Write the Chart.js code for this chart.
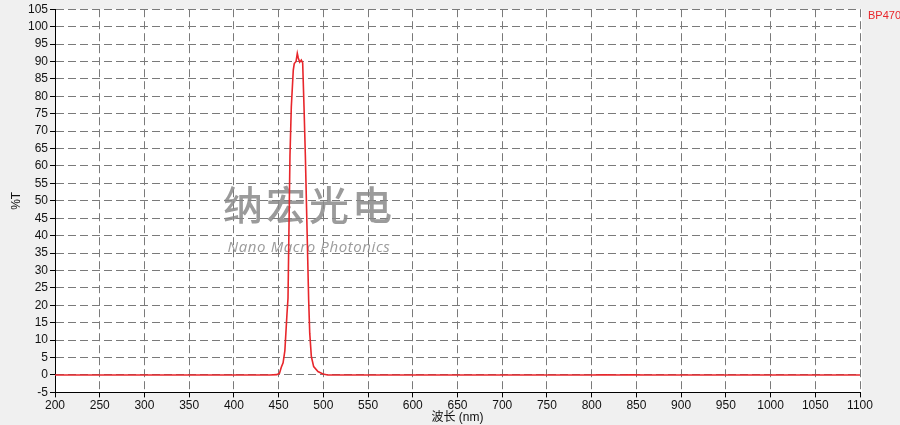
<!DOCTYPE html>
<html>
<head>
<meta charset="utf-8">
<script src="https://cdn.jsdelivr.net/npm/chart.js@4.4.1/dist/chart.umd.min.js"></script>
<style>
  html, body { margin: 0; padding: 0; background: #f0f0f0; }
  #wrap { width: 900px; height: 425px; }
</style>
</head>
<body>
<div id="wrap"><canvas id="specChart"></canvas></div>
<script>
// wavelength (nm) and transmittance (%T)
const wavelengths = [200, 440, 448, 451, 453, 455, 457, 459.4, 460.5, 462.7, 464.2, 466.4, 467.5, 469.5, 470.9, 472, 473.6, 475.4, 476.9, 478.4, 479.9, 483.6, 484.8, 486.6, 489.2, 494, 499.6, 505, 800, 815, 830, 845, 860, 875, 1100];
const transmittance = [0, 0, 0.1, 0.5, 2.2, 3.5, 7, 17.7, 22, 63, 77, 87.5, 89.4, 90, 92.3, 91, 89.8, 90.4, 89.6, 77, 63, 21.5, 12, 5.3, 2.4, 1, 0.3, 0, 0, 0.05, 0, 0.05, 0, 0, 0];
const seriesName = "BP470";
const yTicks = { min: -5, max: 105, step: 5 };
const xTicks = { min: 200, max: 1100, step: 50 };

const FONT = "'Liberation Sans', Arial, 'Noto Sans CJK SC', sans-serif";

// grey page, white plot area
const backdrop = {
  id: "backdrop",
  beforeDraw(chart) {
    const { ctx, chartArea: a } = chart;
    ctx.save();
    ctx.fillStyle = "#f0f0f0";
    ctx.fillRect(0, 0, chart.width, chart.height);
    ctx.fillStyle = "#ffffff";
    ctx.fillRect(a.left, a.top, a.right - a.left + 2, a.bottom - a.top);
    ctx.restore();
  }
};

// company watermark
const watermark = {
  id: "watermark",
  beforeDatasetsDraw(chart) {
    const ctx = chart.ctx;
    ctx.save();
    ctx.globalAlpha = 0.85;
    ctx.fillStyle = "#8a8a8a";
    ctx.textAlign = "center";
    ctx.textBaseline = "middle";
    ctx.font = "500 40px 'Noto Sans CJK SC', sans-serif";
    ctx.letterSpacing = "3px";
    ctx.fillText("纳宏光电", 309, 205);
    ctx.font = "italic 15px 'Open Sans', 'DejaVu Sans', sans-serif";
    ctx.letterSpacing = "0.6px";
    ctx.fillText("Nano Macro Photonics", 309, 248);
    ctx.restore();
  }
};

// series name at the top right
const seriesLabel = {
  id: "seriesLabel",
  afterDraw(chart) {
    const ctx = chart.ctx;
    const ds = chart.data.datasets[0];
    ctx.save();
    ctx.fillStyle = ds.borderColor;
    ctx.font = "11px " + FONT;
    ctx.textAlign = "left";
    ctx.textBaseline = "middle";
    ctx.fillText(ds.label, chart.chartArea.right + 8, 16);
    ctx.restore();
  }
};

const gridStyle = {
  color: "#7a7a7a",
  lineWidth: 1,
  tickLength: 5,
  tickColor: "#000000",
  tickBorderDash: []
};

chart = new Chart(document.getElementById("specChart"), {
  type: "line",
  data: {
    datasets: [{
      label: seriesName,
      data: wavelengths.map((w, i) => ({ x: w, y: transmittance[i] })),
      borderColor: "#e8262b",
      borderWidth: 1.6,
      pointRadius: 0,
      tension: 0,
      fill: false
    }]
  },
  options: {
    responsive: true,
    maintainAspectRatio: false,
    animation: false,
    layout: { padding: { left: 0, right: 40, top: 9, bottom: 0 } },
    plugins: {
      legend: { display: false },
      tooltip: { enabled: false }
    },
    scales: {
      x: {
        type: "linear",
        min: xTicks.min,
        max: xTicks.max,
        afterFit(scale) { scale.height = 32.6; },
        ticks: {
          stepSize: xTicks.step,
          padding: 1,
          maxRotation: 0,
          color: "#111111",
          font: { family: FONT, size: 12 },
          callback: v => String(v)
        },
        grid: gridStyle,
        border: { display: true, color: "#000000", width: 1, dash: [8, 4] },
        title: {
          display: true,
          text: "波长 (nm)",
          color: "#111111",
          font: { family: FONT, size: 12 },
          padding: { top: 0, bottom: 0 }
        }
      },
      y: {
        min: yTicks.min,
        max: yTicks.max,
        afterFit(scale) { scale.width = 55; },
        ticks: {
          stepSize: yTicks.step,
          padding: 2,
          color: "#111111",
          font: { family: FONT, size: 12 },
          callback: v => String(v)
        },
        grid: gridStyle,
        border: { display: true, color: "#000000", width: 1, dash: [8, 4] },
        title: {
          display: true,
          text: "%T",
          color: "#111111",
          font: { family: FONT, size: 12 },
          padding: { top: 9, bottom: 0 }
        }
      }
    }
  },
  plugins: [backdrop, watermark, seriesLabel]
});
</script>
</body>
</html>
